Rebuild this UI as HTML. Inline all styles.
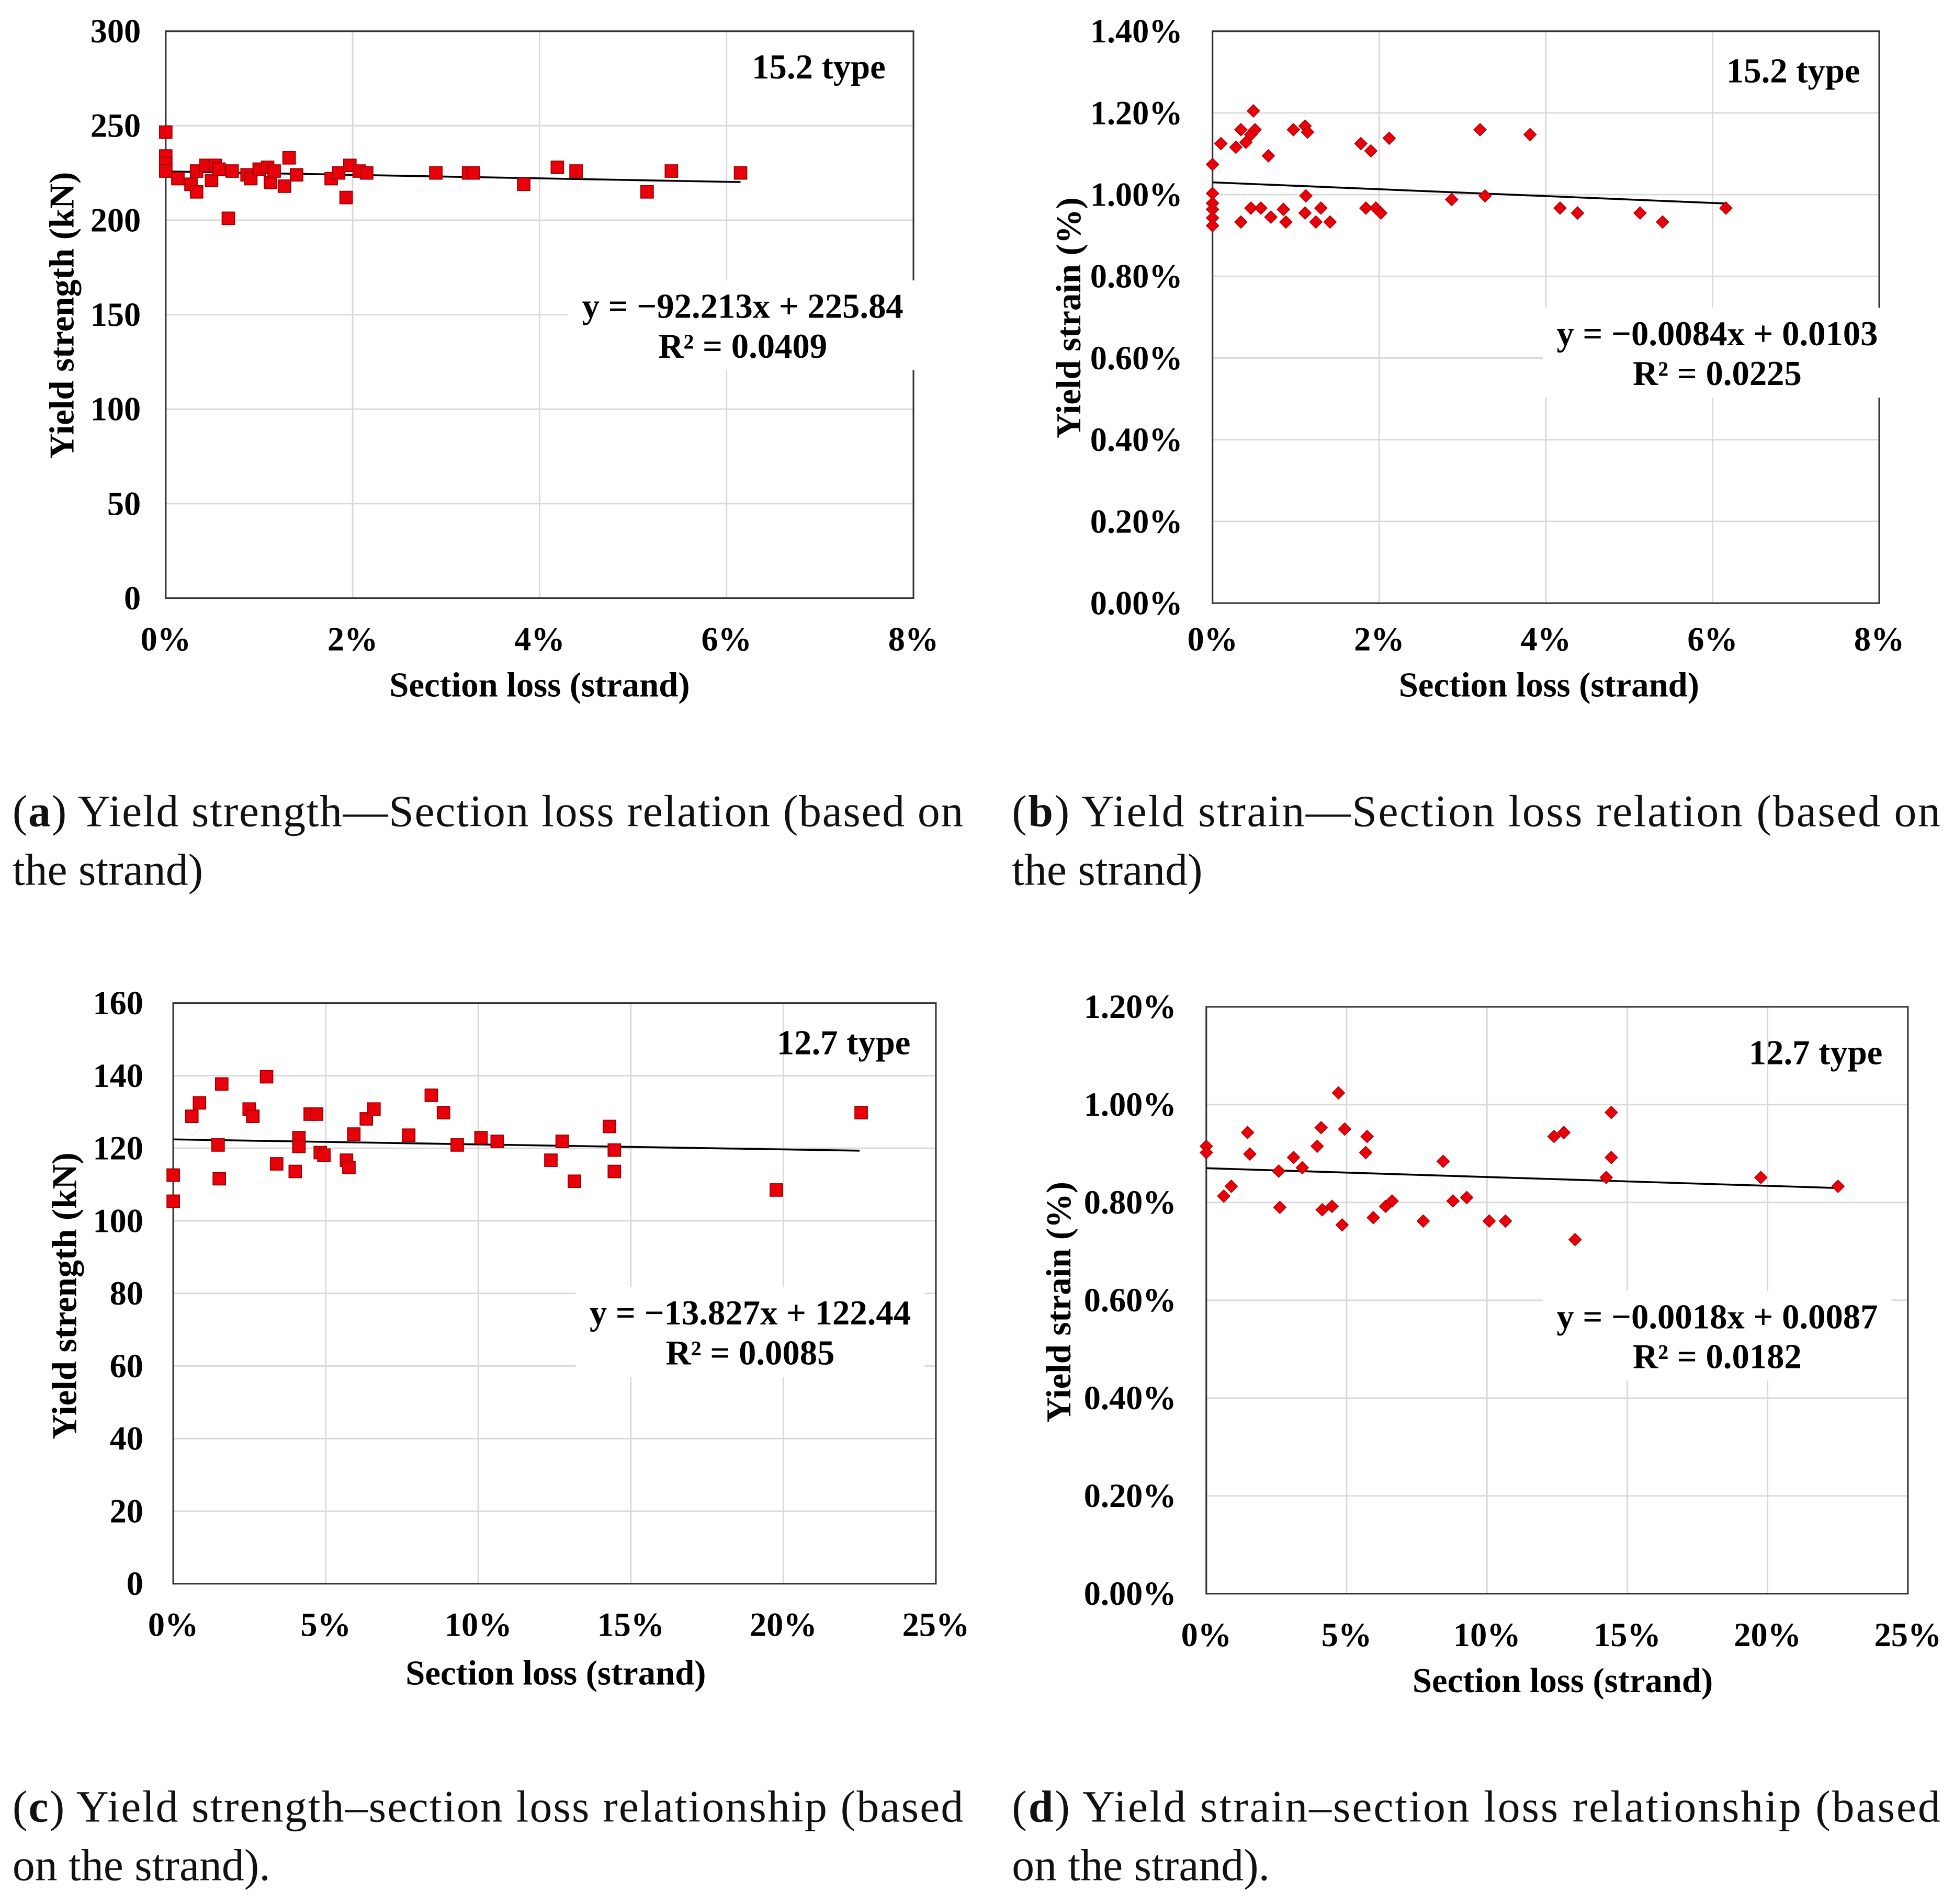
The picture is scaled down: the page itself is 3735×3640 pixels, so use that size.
<!DOCTYPE html>
<html><head><meta charset="utf-8"><style>
html,body{margin:0;padding:0;background:#fff}
svg{display:block}
text{font-family:"Liberation Serif",serif}
</style></head><body>
<svg id="fig" width="3735" height="3640" viewBox="0 0 1568 1528" xmlns="http://www.w3.org/2000/svg">
<rect width="1568" height="1528" fill="#fff"/>
<g id="captions" font-size="36" fill="#111">
<text x="10" y="663" textLength="763" lengthAdjust="spacing">(<tspan font-weight="bold">a</tspan>) Yield strength—Section loss relation (based on</text>
<text x="10" y="710">the strand)</text>
<text x="812" y="663" textLength="745" lengthAdjust="spacing">(<tspan font-weight="bold">b</tspan>) Yield strain—Section loss relation (based on</text>
<text x="812" y="710">the strand)</text>
<text x="10" y="1462" textLength="763" lengthAdjust="spacing">(<tspan font-weight="bold">c</tspan>) Yield strength–section loss relationship (based</text>
<text x="10" y="1509">on the strand).</text>
<text x="812" y="1462" textLength="745" lengthAdjust="spacing">(<tspan font-weight="bold">d</tspan>) Yield strain–section loss relationship (based</text>
<text x="812" y="1509">on the strand).</text>
</g>
</svg>
<script>
const aX=[0,0,0,0,0.13,0.27,0.33,0.33,0.43,0.49,0.53,0.57,0.67,0.71,0.87,0.91,1.0,1.09,1.12,1.16,1.27,1.32,1.4,1.77,1.85,1.93,1.97,2.07,2.15,2.89,3.24,3.29,3.83,4.19,4.39,5.15,5.41,6.15];
const aY=[246.6,234,230,226,222,219,215,226,229,221,229,227,201,226,224,222,227,228,220,226,218,233,224,222,225,212,229,226,225,225,225,225,219,228,226,215,226,225];
const bX=[0,0,0,0,0,0,0.10,0.28,0.34,0.40,0.46,0.49,0.51,0.34,0.46,0.58,0.67,0.70,0.85,0.88,0.97,1.11,1.14,1.12,1.11,1.24,1.30,1.41,1.78,1.90,1.84,1.96,2.02,2.12,2.87,3.21,3.27,3.81,4.17,4.38,5.13,5.40,6.16];
const bY=[1.074,1.003,0.979,0.964,0.943,0.924,1.125,1.116,1.159,1.128,1.147,1.205,1.159,0.933,0.967,0.967,1.095,0.945,0.964,0.933,1.159,1.168,1.153,0.997,0.955,0.933,0.967,0.933,1.125,1.107,0.967,0.967,0.955,1.138,0.988,1.159,0.997,1.147,0.967,0.955,0.955,0.933,0.967];
const cX=[0,0,0.61,0.86,1.47,1.51,1.59,2.49,2.61,3.06,3.39,4.0,4.12,4.12,4.49,4.7,4.82,4.94,5.68,5.76,5.92,6.33,6.58,7.72,8.46,8.86,9.31,10.09,10.62,12.38,12.75,13.15,14.3,14.46,14.46,19.77,22.55];
const cY=[112.6,105.4,128.8,132.5,120.9,111.6,137.7,130.8,128.8,139.7,115.7,113.6,122.9,120.5,129.4,129.4,118.8,118.1,116.7,114.7,123.9,128.1,130.8,123.6,134.6,129.8,120.9,122.9,121.9,116.7,121.9,110.9,126.0,119.5,113.6,108.5,129.8];
const dX=[0,0,0.62,0.89,1.47,1.55,2.58,2.62,3.11,3.42,3.95,4.09,4.13,4.48,4.71,4.84,4.93,5.68,5.73,5.95,6.39,6.62,7.73,8.44,8.79,9.28,10.08,10.66,12.39,12.74,13.14,14.25,14.43,14.43,19.76,22.51];
const dY=[0.915,0.902,0.813,0.833,0.943,0.899,0.864,0.79,0.892,0.871,0.915,0.953,0.785,0.792,1.024,0.754,0.950,0.902,0.935,0.769,0.792,0.803,0.762,0.884,0.803,0.810,0.762,0.762,0.935,0.943,0.724,0.851,0.892,0.984,0.851,0.833];
const aTicksY=[0,50,100,150,200,250,300];
const aTicksX=[0,2,4,6,8];
const bTicksY=[0,0.2,0.4,0.6,0.8,1.0,1.2,1.4];
const bTicksX=[0,2,4,6,8];
const cTicksY=[0,20,40,60,80,100,120,140,160];
const cTicksX=[0,5,10,15,20,25];
const dTicksY=[0,0.2,0.4,0.6,0.8,1.0,1.2];
const dTicksX=[0,5,10,15,20,25];
const aFit=[-0.92213,225.84,6.15];
const bFit=[-0.0084,1.03,6.16];
const cFit=[-0.13827,122.44,22.5];
const dFit=[-0.0018,0.87,22.4];

const svg=document.getElementById('fig');
const NS='http://www.w3.org/2000/svg';
function mk(tag,attrs,parent,txt){const e=document.createElementNS(NS,tag);for(const k in attrs)e.setAttribute(k,attrs[k]);if(txt!==undefined)e.textContent=txt;(parent||svg).appendChild(e);return e;}

function panel(id,P,xs,ys,tx,ty,fit,fmtX,fmtY,marker,labels){
  const g=mk('g',{});
  
  
  const sx=v=>P.x0+(v-tx[0])/(tx[tx.length-1]-tx[0])*(P.x1-P.x0);
  const sy=v=>P.y0-(v-ty[0])/(ty[ty.length-1]-ty[0])*(P.y0-P.y1);
  ty.forEach(v=>{const l=mk('line',{x1:P.x0,x2:P.x1,y1:sy(v),y2:sy(v),stroke:'#d9d9d9','stroke-width':1.2},g);
    
    const t=mk('text',{x:P.x0-P.ylo,y:sy(v)+9,'text-anchor':'end','font-size':27,'font-weight':'bold'},g,fmtY(v));
    });
  tx.forEach(v=>{const l=mk('line',{x1:sx(v),x2:sx(v),y1:P.y0,y2:P.y1,stroke:'#d9d9d9','stroke-width':1.2},g);
    
    const t=mk('text',{x:sx(v),y:P.y0+P.xlo,'text-anchor':'middle','font-size':27,'font-weight':'bold'},g,fmtX(v));
    });
  const bd=mk('rect',{x:P.x0,y:P.y1,width:P.x1-P.x0,height:P.y0-P.y1,fill:'none',stroke:'#333','stroke-width':1.3},g);
  
  const eb=mk('rect',{x:labels.ex-140,y:labels.ey-30,width:280,height:72,fill:'#fff'},g);
  
  const fl=mk('line',{x1:sx(0),y1:sy(fit[1]),x2:sx(fit[2]),y2:sy(fit[1]+fit[0]*fit[2]),stroke:'#000','stroke-width':1.5},g);
  
  xs.forEach((v,i)=>{const cx=sx(v),cy=sy(ys[i]);let m;
    if(marker==='sq'){m=mk('rect',{x:cx-5,y:cy-5,width:10,height:10,fill:'#e8000b',stroke:'#a00000','stroke-width':0.8},g);}
    else{m=mk('polygon',{points:`${cx},${cy-5} ${cx+5},${cy} ${cx},${cy+5} ${cx-5},${cy}`,fill:'#e8000b',stroke:'#b00000','stroke-width':0.6},g);}
    });
  const lt=mk('text',{x:labels.lx,y:labels.ly,'text-anchor':'middle','font-size':28,'font-weight':'bold'},g,labels.type);
  
  const e1=mk('text',{x:labels.ex,y:labels.ey,'text-anchor':'middle','font-size':28,'font-weight':'bold'},g,labels.eq);
  
  const e2=mk('text',{x:labels.ex,y:labels.ey+32,'text-anchor':'middle','font-size':28,'font-weight':'bold'},g,labels.r2);
  
  const xt=mk('text',{x:labels.xtx,y:labels.xty,'text-anchor':'middle','font-size':28,'font-weight':'bold'},g,'Section loss (strand)');
  
  const yt=mk('text',{x:0,y:0,transform:`translate(${labels.ytx},${labels.yty}) rotate(-90)`,'text-anchor':'middle','font-size':28,'font-weight':'bold'},g,labels.yt);
  
}
const pct0=v=>v+'%';
const pct2=v=>v.toFixed(2)+'%';
panel('a',{x0:133,x1:733,y0:480,y1:25,ylo:20,xlo:42},aX,aY,aTicksX,aTicksY,aFit,pct0,v=>String(v),'sq',
 {type:'15.2 type',lx:657,ly:63,eq:'y = −92.213x + 225.84',r2:'R² = 0.0409',ex:596,ey:255,xtx:433,xty:559,yt:'Yield strength (kN)',ytx:59,yty:253});
panel('b',{x0:973,x1:1508,y0:484,y1:25,ylo:24,xlo:38},bX,bY,bTicksX,bTicksY,bFit,pct0,pct2,'dia',
 {type:'15.2 type',lx:1439,ly:66,eq:'y = −0.0084x + 0.0103',r2:'R² = 0.0225',ex:1378,ey:277,xtx:1243,xty:559,yt:'Yield strain (%)',ytx:867,yty:255});
panel('c',{x0:139,x1:751,y0:1271,y1:805,ylo:24,xlo:42},cX,cY,cTicksX,cTicksY,cFit,pct0,v=>String(v),'sq',
 {type:'12.7 type',lx:677,ly:846,eq:'y = −13.827x + 122.44',r2:'R² = 0.0085',ex:602,ey:1063,xtx:446,xty:1352,yt:'Yield strength (kN)',ytx:61,yty:1040});
panel('d',{x0:968,x1:1531,y0:1279,y1:808,ylo:24,xlo:42},dX,dY,dTicksX,dTicksY,dFit,pct0,pct2,'dia',
 {type:'12.7 type',lx:1457,ly:854,eq:'y = −0.0018x + 0.0087',r2:'R² = 0.0182',ex:1378,ey:1066,xtx:1254,xty:1358,yt:'Yield strain (%)',ytx:859,yty:1045});
</script>
</body></html>
